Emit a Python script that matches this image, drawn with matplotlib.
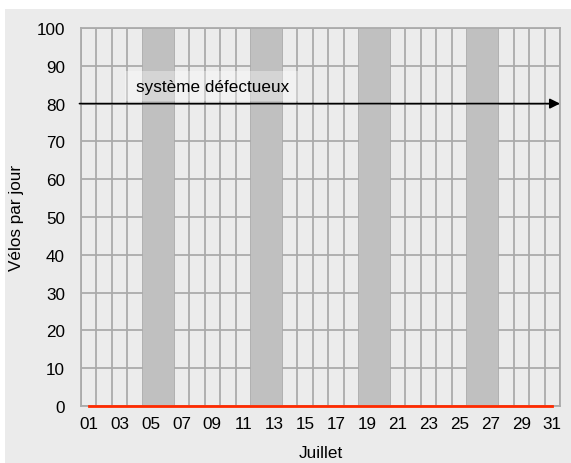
import matplotlib.pyplot as plt
from matplotlib.patches import Rectangle

days = list(range(1, 32))
velos = [0] * 31
weekends = [(5, 6), (12, 13), (19, 20), (26, 27)]
tick_days = list(range(1, 32, 2))
tick_labels = ["%02d" % d for d in tick_days]
y_ticks = list(range(0, 101, 10))
note = "système défectueux"
note_level = 80

plt.rcParams["font.family"] = ["Liberation Sans", "DejaVu Sans"]
fs = 12.3

fig = plt.figure(figsize=(5.71, 4.64), dpi=100, facecolor="white")
fig.patches.append(Rectangle((5 / 571, 0), 1, 1 - 10 / 464, transform=fig.transFigure,
                             facecolor="#ebebeb", edgecolor="none", zorder=-10))
ax = fig.add_axes([81 / 571, 1 - 407 / 464, 479 / 571, 378 / 464])
ax.set_facecolor("#ececec")

ax.set_xlim(0.5, 31.5)
ax.set_ylim(0, 100)

for x in range(len(days) + 1):
    ax.axvline(x + 0.5, color="#ababab", lw=1.3, zorder=1)
for y in y_ticks:
    ax.axhline(y, color="#ababab", lw=1.3, zorder=1)

for a, b in weekends:
    ax.axvspan(a - 0.5, b + 0.5, color="#c0c0c0", lw=0, zorder=2)

ax.plot(days, velos, color="#ff2a00", lw=2, zorder=5, clip_on=False)

ax.annotate("", xy=(31.5, note_level), xytext=(0.4, note_level),
            arrowprops=dict(arrowstyle="-|>", color="black", lw=1.2,
                            mutation_scale=15, shrinkA=0, shrinkB=0),
            annotation_clip=False, zorder=6)
ax.add_patch(Rectangle((3.35, 80.8), 11.2, 7.9, facecolor="white", alpha=0.35,
                       edgecolor="none", zorder=5))
ax.text(4.06, 84.4, note, fontsize=fs, va="center", ha="left", zorder=6)

ax.set_xticks(tick_days)
ax.set_xticklabels(tick_labels)
ax.set_yticks(y_ticks)
ax.tick_params(length=0, labelsize=fs, pad=7)
ax.tick_params(axis="y", pad=11.5)
for s in ax.spines.values():
    s.set_color("#ababab")
    s.set_linewidth(1.3)

ax.set_xlabel("Juillet", fontsize=fs, labelpad=10)
ax.set_ylabel("Vélos par jour", fontsize=fs, labelpad=9)

fig.savefig("out.png", dpi=100, facecolor=fig.get_facecolor())
